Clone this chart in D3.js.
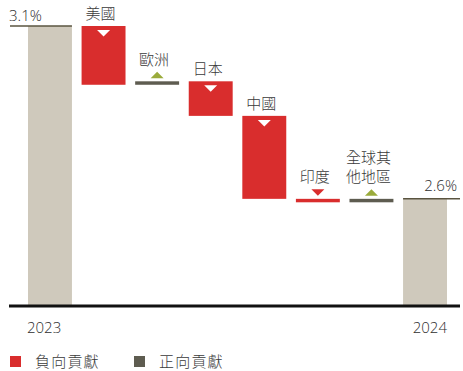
<!DOCTYPE html>
<html>
<head>
<meta charset="utf-8">
<script src="https://cdn.jsdelivr.net/npm/d3@7"></script>
<style>
  html, body { margin: 0; padding: 0; background: #fff; }
  svg { display: block; }
  text { font-family: "Open Sans", "Noto Sans CJK TC", sans-serif; font-weight: 300; fill: #2e2e2e; }
  .cjk { font-family: "Noto Sans CJK TC", "Noto Sans", sans-serif; font-weight: 300; fill: #3a3a3a; }
</style>
</head>
<body>
<svg id="chart" width="463" height="371"></svg>
<script>
// GDP growth waterfall: start year, regional contributions, end year
const startYear = "2023";
const startValue = 3.1;
const endYear = "2024";
const endValue = 2.6;
const regions = ["美國", "歐洲", "日本", "中國", "印度", "全球其他地區"];
const regionLabelLines = [["美國"], ["歐洲"], ["日本"], ["中國"], ["印度"], ["全球其", "他地區"]];
const contributions = [-0.17, 0.01, -0.10, -0.24, -0.01, 0.01];
const legendLabels = ["負向貢獻", "正向貢獻"];

const colors = {
  total: "#cfc9bc",
  totalTop: "#5a5440",
  negative: "#d92d2d",
  positive: "#5e5c50",
  upArrow: "#9aab3b"
};

const svg = d3.select("#chart");

const steps = [startYear, ...regions, endYear];
const x = d3.scaleBand().domain(steps).range([28, 447]).paddingInner(0.18).paddingOuter(0);
const y = d3.scaleLinear().domain([2.29, 3.1]).range([306, 26]);

// Running levels for the waterfall
let level = startValue;
const segs = regions.map((r, i) => {
  const from = level;
  const to = level + contributions[i];
  level = to;
  return { key: r, lines: regionLabelLines[i], value: contributions[i], from, to };
});

const bw = x.bandwidth();

// Total bars
const totals = [
  { key: startYear, value: startValue },
  { key: endYear, value: endValue }
];
svg.selectAll("rect.total").data(totals).join("rect")
  .attr("class", "total")
  .attr("x", d => x(d.key))
  .attr("y", d => y(d.value))
  .attr("width", bw)
  .attr("height", d => y.range()[0] - y(d.value))
  .attr("fill", colors.total);

// Top rules and value labels of the totals
svg.append("line")
  .attr("x1", 10).attr("x2", x(startYear) + bw)
  .attr("y1", y(startValue)).attr("y2", y(startValue))
  .attr("stroke", colors.totalTop).attr("stroke-width", 1.5);
svg.append("text")
  .attr("x", 9).attr("y", y(startValue) - 5)
  .attr("font-size", 15)
  .text(d3.format(".1f")(startValue) + "%");

svg.append("line")
  .attr("x1", x(endYear)).attr("x2", 460)
  .attr("y1", y(endValue)).attr("y2", y(endValue))
  .attr("stroke", colors.totalTop).attr("stroke-width", 1.5);
svg.append("text")
  .attr("x", 457).attr("y", y(endValue) - 8)
  .attr("text-anchor", "end")
  .attr("font-size", 15)
  .text(d3.format(".1f")(endValue) + "%");

// Contribution bars
svg.selectAll("rect.seg").data(segs).join("rect")
  .attr("class", "seg")
  .attr("x", d => x(d.key))
  .attr("y", d => y(Math.max(d.from, d.to)))
  .attr("width", bw)
  .attr("height", d => Math.max(3, Math.abs(y(d.from) - y(d.to))))
  .attr("fill", d => d.value < 0 ? colors.negative : colors.positive);

// Direction markers and labels
const triW = 13, triH = 6.5;
segs.forEach(d => {
  const cx = x(d.key) + bw / 2;
  const top = y(Math.max(d.from, d.to));
  const h = Math.abs(y(d.from) - y(d.to));
  let markTop;
  if (h > 20) {
    // white down-arrow inside a large bar
    const t = top + 4;
    svg.append("path")
      .attr("d", `M${cx - triW / 2},${t}L${cx + triW / 2},${t}L${cx},${t + triH}Z`)
      .attr("fill", "#fff");
    markTop = top;
  } else {
    const b = top - 3;
    const t = b - triH;
    const dpath = d.value < 0
      ? `M${cx - triW / 2},${t}L${cx + triW / 2},${t}L${cx},${b}Z`
      : `M${cx - triW / 2},${b}L${cx + triW / 2},${b}L${cx},${t}Z`;
    svg.append("path")
      .attr("d", dpath)
      .attr("fill", d.value < 0 ? colors.negative : colors.upArrow);
    markTop = t;
  }
  const lineH = 19;
  const base = markTop - 7;
  const txt = svg.append("text")
    .attr("class", "cjk")
    .attr("x", cx - 3)
    .attr("text-anchor", "middle")
    .attr("font-size", 15);
  d.lines.forEach((ln, i) => {
    txt.append("tspan")
      .attr("x", cx - 3)
      .attr("y", base - (d.lines.length - 1 - i) * lineH)
      .text(ln);
  });
});

// Baseline axis
svg.append("line")
  .attr("x1", 9).attr("x2", 460)
  .attr("y1", y.range()[0]).attr("y2", y.range()[0])
  .attr("stroke", "#111").attr("stroke-width", 3);

// Year labels
svg.append("text")
  .attr("x", x(startYear) - 1).attr("y", 333)
  .attr("font-size", 15)
  .text(startYear);
svg.append("text")
  .attr("x", x(endYear) + bw).attr("y", 333)
  .attr("text-anchor", "end")
  .attr("font-size", 15)
  .text(endYear);

// Legend
const legend = svg.append("g").attr("transform", "translate(10,356)");
const legendItems = [
  { label: legendLabels[0], color: colors.negative, x: 0 },
  { label: legendLabels[1], color: colors.positive, x: 124 }
];
legendItems.forEach(it => {
  legend.append("rect")
    .attr("x", it.x).attr("y", 0)
    .attr("width", 11).attr("height", 11)
    .attr("fill", it.color);
  legend.append("text")
    .attr("class", "cjk")
    .attr("x", it.x + 25).attr("y", 11)
    .attr("font-size", 15)
    .attr("letter-spacing", 1.2)
    .text(it.label);
});
</script>
</body>
</html>
